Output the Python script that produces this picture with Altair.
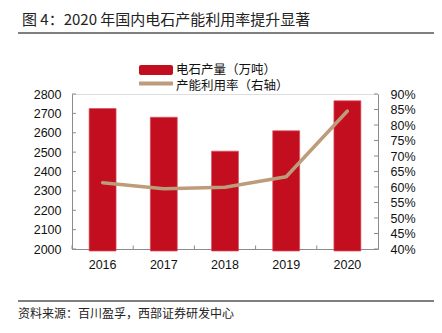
import altair as alt
import pandas as pd

years = ["2016", "2017", "2018", "2019", "2020"]
output = [2725, 2680, 2505, 2610, 2765]          # 电石产量（万吨）
util = [61.4, 59.4, 59.9, 63.3, 84.5]            # 产能利用率（%）
left_ticks = [2000, 2100, 2200, 2300, 2400, 2500, 2600, 2700, 2800]
right_ticks = [40, 45, 50, 55, 60, 65, 70, 75, 80, 85, 90]

title_text = "图 4：2020 年国内电石产能利用率提升显著"
source_text = "资料来源：百川盈孚，西部证券研发中心"
legend_bar = "电石产量（万吨）"
legend_line = "产能利用率（右轴）"

W, H = 306, 155
RED = "#C20E1F"
TAN = "#BC9C7A"
AXC = "#8c8c8c"
CJK = "Noto Sans CJK SC"
NUM = "Liberation Sans"

df = pd.DataFrame({"year": years, "output": output, "util": util})
lt = pd.DataFrame({"v": left_ticks})
rt = pd.DataFrame({"v": right_ticks})
yt = pd.DataFrame({"year": years})

xscale = alt.Scale(domain=years, paddingInner=0, paddingOuter=0)
xaxis = alt.Axis(title=None, ticks=False, domainColor=AXC, labelFont=NUM,
                 labelFontSize=12.5, labelColor="#111", labelPadding=9,
                 labelAngle=0, grid=False)

lscale = alt.Scale(domain=[2000, 2800], nice=False, zero=False)
laxis = alt.Axis(title=None, ticks=False, domainColor=AXC, labelFont=NUM,
                 labelFontSize=12.5, labelColor="#111", labelPadding=11,
                 values=left_ticks, grid=False, orient="left", format="d")
rscale = alt.Scale(domain=[40, 90], nice=False, zero=False)
raxis = alt.Axis(title=None, ticks=False, domainColor=AXC, labelFont=NUM,
                 labelFontSize=12.5, labelColor="#111", labelPadding=12,
                 values=right_ticks, grid=False, orient="right",
                 labelExpr="datum.value + '%'")

bars = alt.Chart(df).mark_bar(
    width=alt.RelativeBandSize(0.44), color=RED, stroke="#D8515C", strokeWidth=0.7
).encode(
    x=alt.X("year:N", scale=xscale, axis=xaxis),
    y=alt.Y("output:Q", scale=lscale, axis=laxis, stack=None),
    y2=alt.value(H + 2),
)
lticks = alt.Chart(lt).mark_rule(color=AXC, strokeWidth=1).encode(
    y=alt.Y("v:Q", scale=lscale, axis=laxis),
    x=alt.value(0), x2=alt.value(4),
)
left_group = alt.layer(bars, lticks)

line = alt.Chart(df).mark_line(color=TAN, strokeWidth=3.5, strokeCap="round",
                               strokeJoin="round").encode(
    x=alt.X("year:N", scale=xscale, axis=xaxis),
    y=alt.Y("util:Q", scale=rscale, axis=raxis),
)
rticks = alt.Chart(rt).mark_rule(color=AXC, strokeWidth=1).encode(
    y=alt.Y("v:Q", scale=rscale, axis=raxis),
    x=alt.value(W), x2=alt.value(W - 4),
)
right_group = alt.layer(line, rticks)

xticks = alt.Chart(yt).mark_rule(color=AXC, strokeWidth=1).encode(
    x=alt.X("year:N", scale=xscale, axis=xaxis, bandPosition=0),
    y=alt.value(H), y2=alt.value(H - 3.5),
)

one = alt.Data(values=[{"a": 1}])
leg_rect = alt.Chart(one).mark_rect(color=RED, cornerRadius=2).encode(
    x=alt.value(67), x2=alt.value(101), y=alt.value(-29), y2=alt.value(-19))
leg_line = alt.Chart(one).mark_rule(color=TAN, strokeWidth=4).encode(
    x=alt.value(67), x2=alt.value(101), y=alt.value(-10.5))
leg_t1 = alt.Chart(one).mark_text(text=legend_bar, font=CJK, fontSize=12.5,
                                  align="left", baseline="middle", color="#111").encode(
    x=alt.value(104), y=alt.value(-24.5))
leg_t2 = alt.Chart(one).mark_text(text=legend_line, font=CJK, fontSize=12.5,
                                  align="left", baseline="middle", color="#111").encode(
    x=alt.value(104), y=alt.value(-8.5))

title = alt.Chart(one).mark_text(text=title_text, font=CJK, fontSize=15,
                                 align="left", baseline="middle", color="#222").encode(
    x=alt.value(-50), y=alt.value(-74))
top_rule = alt.Chart(one).mark_rule(color="#555", strokeWidth=1.3).encode(
    x=alt.value(-54), x2=alt.value(362), y=alt.value(-61))
bot_rule = alt.Chart(one).mark_rule(color="#555", strokeWidth=1.3).encode(
    x=alt.value(-54), x2=alt.value(362), y=alt.value(207))
source = alt.Chart(one).mark_text(text=source_text, font=CJK, fontSize=12,
                                  align="left", baseline="middle", color="#222").encode(
    x=alt.value(-54), y=alt.value(220))

chart = alt.layer(
    left_group, right_group, xticks,
    leg_rect, leg_line, leg_t1, leg_t2,
    title, top_rule, bot_rule, source,
).resolve_scale(y="independent").properties(
    width=W, height=H,
    autosize=alt.AutoSizeParams(type="none"),
    padding={"left": 72, "top": 94, "right": 442 - 72 - W, "bottom": 333 - 94 - H},
).configure_view(stroke=None).configure(background="white")

chart.save("out.html", embed_options={"renderer": "svg", "actions": False})
